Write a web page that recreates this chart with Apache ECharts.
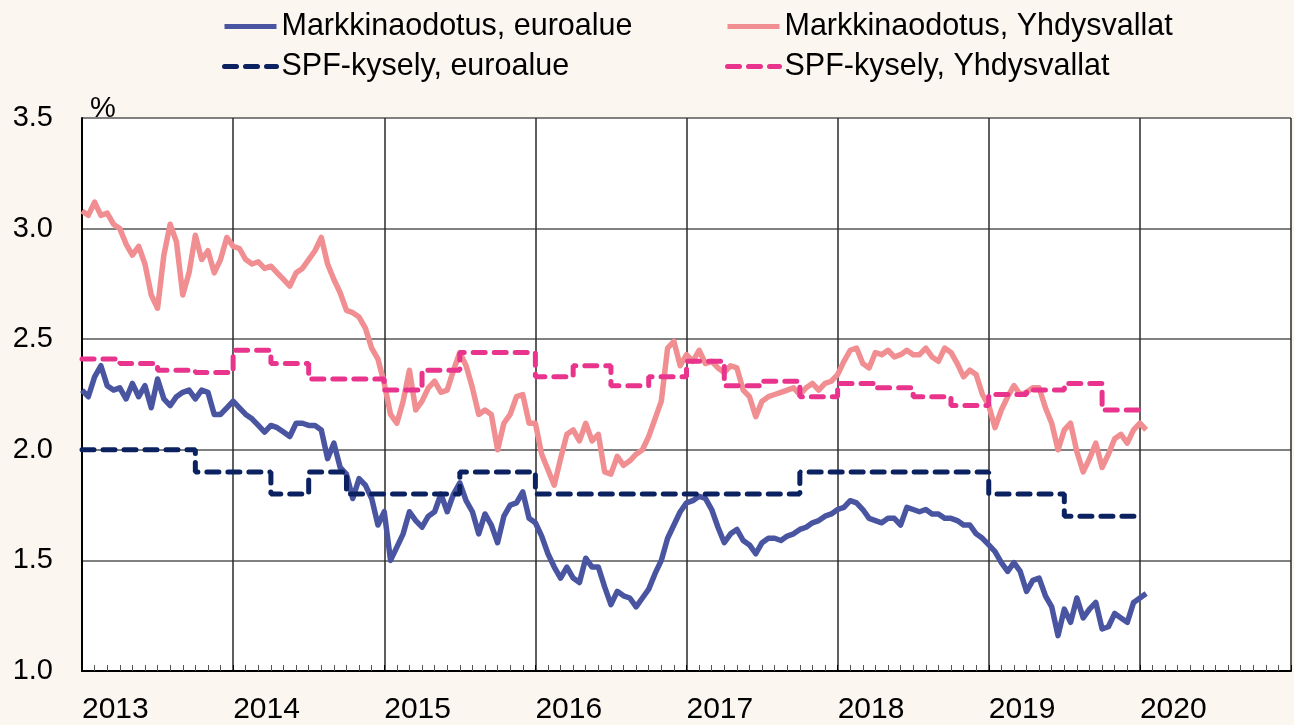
<!DOCTYPE html>
<html>
<head>
<meta charset="UTF-8">
<title>Inflaatio-odotukset</title>
<script src="https://cdn.jsdelivr.net/npm/echarts@6/dist/echarts.min.js"></script>
<style>
    html, body { margin: 0; padding: 0; background: #fbf6f0; }
    #chart { width: 1294px; height: 725px; }
</style>
</head>
<body>
<div id="chart"></div>
<script>
// markkinaodotukset, puolen kuukauden välein alkaen 1.1.2013
var marketStart = 2013;
var marketStep = 1 / 24;
var marketEuro = [
    2.27, 2.24, 2.33, 2.38, 2.29, 2.27, 2.28, 2.23, 2.30, 2.24,
    2.29, 2.19, 2.32, 2.23, 2.20, 2.24, 2.26, 2.27, 2.23, 2.27,
    2.26, 2.16, 2.16, 2.19, 2.22, 2.19, 2.16, 2.14, 2.11, 2.08,
    2.11, 2.10, 2.08, 2.06, 2.12, 2.12, 2.11, 2.11, 2.09, 1.96,
    2.03, 1.92, 1.89, 1.78, 1.87, 1.84, 1.78, 1.66, 1.72, 1.50,
    1.56, 1.62, 1.72, 1.68, 1.65, 1.70, 1.72, 1.80, 1.72, 1.80,
    1.85, 1.77, 1.72, 1.62, 1.71, 1.66, 1.58, 1.70, 1.75, 1.76,
    1.81, 1.69, 1.67, 1.61, 1.53, 1.47, 1.42, 1.47, 1.42, 1.40,
    1.51, 1.47, 1.47, 1.38, 1.30, 1.36, 1.34, 1.33, 1.29, 1.33,
    1.37, 1.44, 1.50, 1.60, 1.66, 1.72, 1.76, 1.77, 1.79, 1.78,
    1.73, 1.65, 1.58, 1.62, 1.64, 1.59, 1.57, 1.53, 1.58, 1.60,
    1.60, 1.59, 1.61, 1.62, 1.64, 1.65, 1.67, 1.68, 1.70, 1.71,
    1.73, 1.74, 1.77, 1.76, 1.73, 1.69, 1.68, 1.67, 1.69, 1.69,
    1.66, 1.74, 1.73, 1.72, 1.73, 1.71, 1.71, 1.69, 1.69, 1.68,
    1.66, 1.66, 1.62, 1.60, 1.57, 1.54, 1.49, 1.45, 1.49, 1.45,
    1.36, 1.41, 1.42, 1.34, 1.29, 1.16, 1.28, 1.22, 1.33, 1.24,
    1.28, 1.31, 1.19, 1.20, 1.26, 1.24, 1.22, 1.31, 1.33, 1.35
];
var marketUS = [
    3.08, 3.06, 3.12, 3.06, 3.07, 3.02, 3.00, 2.93, 2.88, 2.92,
    2.84, 2.70, 2.64, 2.88, 3.02, 2.94, 2.70, 2.80, 2.97, 2.86,
    2.90, 2.80, 2.86, 2.96, 2.92, 2.91, 2.86, 2.84, 2.85, 2.82,
    2.83, 2.80, 2.77, 2.74, 2.80, 2.82, 2.86, 2.90, 2.96, 2.84,
    2.77, 2.71, 2.63, 2.62, 2.60, 2.55, 2.46, 2.41, 2.30, 2.16,
    2.12, 2.22, 2.36, 2.18, 2.22, 2.28, 2.31, 2.26, 2.27, 2.36,
    2.44, 2.38, 2.28, 2.16, 2.18, 2.16, 2.00, 2.12, 2.16, 2.24,
    2.25, 2.12, 2.12, 1.98, 1.91, 1.84, 1.96, 2.07, 2.09, 2.04,
    2.12, 2.04, 2.07, 1.90, 1.89, 1.97, 1.93, 1.95, 1.98, 2.00,
    2.06, 2.14, 2.22, 2.46, 2.49, 2.38, 2.43, 2.40, 2.45, 2.39,
    2.40, 2.37, 2.35, 2.38, 2.37, 2.27, 2.24, 2.15, 2.22, 2.24,
    2.25, 2.26, 2.27, 2.28, 2.25, 2.28, 2.30, 2.27, 2.30, 2.31,
    2.34, 2.40, 2.45, 2.46, 2.39, 2.37, 2.44, 2.43, 2.45, 2.42,
    2.43, 2.45, 2.43, 2.43, 2.46, 2.42, 2.40, 2.46, 2.44, 2.39,
    2.33, 2.36, 2.34, 2.25, 2.20, 2.10, 2.18, 2.24, 2.29, 2.25,
    2.26, 2.28, 2.28, 2.19, 2.12, 2.00, 2.09, 2.12, 1.99, 1.90,
    1.96, 2.03, 1.92, 1.98, 2.05, 2.07, 2.03, 2.09, 2.12, 2.09
];

// SPF-kyselyt neljännesvuosittain (viimeinen piste = viivan loppu)
var spfQuarters = [
    2013, 2013.25, 2013.5, 2013.75, 2014, 2014.25, 2014.5, 2014.75,
    2015, 2015.25, 2015.5, 2015.75, 2016, 2016.25, 2016.5, 2016.75,
    2017, 2017.25, 2017.5, 2017.75, 2018, 2018.25, 2018.5, 2018.75,
    2019, 2019.25, 2019.5, 2019.75, 2020
];
var spfEuro = [
    2.0, 2.0, 2.0, 1.9, 1.9, 1.8, 1.9, 1.8,
    1.8, 1.8, 1.9, 1.9, 1.8, 1.8, 1.8, 1.8,
    1.8, 1.8, 1.8, 1.9, 1.9, 1.9, 1.9, 1.9,
    1.8, 1.8, 1.7, 1.7, 1.7
];
var spfUS = [
    2.41, 2.39, 2.36, 2.35, 2.45, 2.39, 2.32, 2.32,
    2.27, 2.36, 2.44, 2.44, 2.33, 2.38, 2.29, 2.33,
    2.40, 2.29, 2.31, 2.24, 2.30, 2.28, 2.24, 2.20,
    2.25, 2.27, 2.30, 2.18, 2.18
];

var seriesNames = [
    'Markkinaodotus, euroalue',
    'Markkinaodotus, Yhdysvallat',
    'SPF-kysely, euroalue',
    'SPF-kysely, Yhdysvallat'
];

var font = 'Liberation Sans, Arial, sans-serif';

function marketPoints(values) {
    return values.map(function (v, i) { return [marketStart + i * marketStep, v]; });
}
function spfPoints(values) {
    return values.map(function (v, i) { return [spfQuarters[i], v]; });
}

function legendAt(name, left, top) {
    return {
        data: [name],
        left: left,
        top: top,
        padding: 0,
        itemWidth: 52,
        itemHeight: 14,
        selectedMode: false,
        itemStyle: { opacity: 0 },
        lineStyle: { width: 5 },
        textStyle: { fontFamily: font, fontSize: 30.5, color: '#000' }
    };
}

var myChart = echarts.init(document.getElementById('chart'));

var option = {
    backgroundColor: '#fbf6f0',
    animation: false,
    legend: [
        legendAt(seriesNames[0], 222, 11),
        legendAt(seriesNames[1], 725, 11),
        legendAt(seriesNames[2], 222, 51),
        legendAt(seriesNames[3], 725, 51)
    ],
    grid: {
        left: 82,
        top: 118,
        width: 1224,
        height: 558,
        show: true,
        backgroundColor: '#ffffff',
        borderWidth: 0
    },
    xAxis: {
        type: 'value',
        min: 2013,
        max: 2021,
        interval: 1,
        axisLine: { lineStyle: { color: '#000', width: 2 } },
        axisTick: { show: true, inside: true, length: 6, lineStyle: { color: '#000' } },
        minorTick: { show: true, splitNumber: 12, length: 6, lineStyle: { color: '#555', width: 1 } },
        splitLine: { show: true, lineStyle: { color: '#2a2a2a', width: 1.5 } },
        axisLabel: {
            align: 'left',
            margin: 24,
            fontFamily: font,
            fontSize: 30,
            color: '#000',
            formatter: function (v) { return v < 2021 ? String(v) : ''; }
        }
    },
    yAxis: {
        type: 'value',
        min: 1,
        max: 3.5,
        interval: 0.5,
        name: '%',
        nameLocation: 'end',
        nameGap: -5,
        nameTextStyle: { fontFamily: font, fontSize: 29, color: '#000', align: 'left', verticalAlign: 'bottom', padding: [0, 0, 0, 8] },
        axisLine: { show: true, lineStyle: { color: '#000', width: 2 } },
        axisTick: { show: false },
        splitLine: { show: true, lineStyle: { color: '#808080', width: 2 } },
        axisLabel: {
            margin: 29,
            padding: [9, 0, 0, 0],
            fontFamily: font,
            fontSize: 29,
            color: '#000',
            formatter: function (v) { return v.toFixed(1); }
        }
    },
    series: [
        {
            name: seriesNames[0],
            type: 'line',
            symbol: 'none',
            data: marketPoints(marketEuro),
            color: '#4a55a2',
            lineStyle: { width: 5.5, color: '#4a55a2', join: 'round' },
            z: 2
        },
        {
            name: seriesNames[1],
            type: 'line',
            symbol: 'none',
            data: marketPoints(marketUS),
            color: '#f08e91',
            lineStyle: { width: 5.5, color: '#f08e91', join: 'round' },
            z: 2
        },
        {
            name: seriesNames[2],
            type: 'line',
            symbol: 'none',
            step: 'end',
            data: spfPoints(spfEuro),
            color: '#0c2260',
            lineStyle: { width: 5, color: '#0c2260', type: [12, 9], cap: 'round' },
            z: 3
        },
        {
            name: seriesNames[3],
            type: 'line',
            symbol: 'none',
            step: 'end',
            data: spfPoints(spfUS),
            color: '#e8348c',
            lineStyle: { width: 5, color: '#e8348c', type: [12, 9], cap: 'round' },
            z: 3
        }
    ]
};

myChart.setOption(option);
</script>
</body>
</html>
